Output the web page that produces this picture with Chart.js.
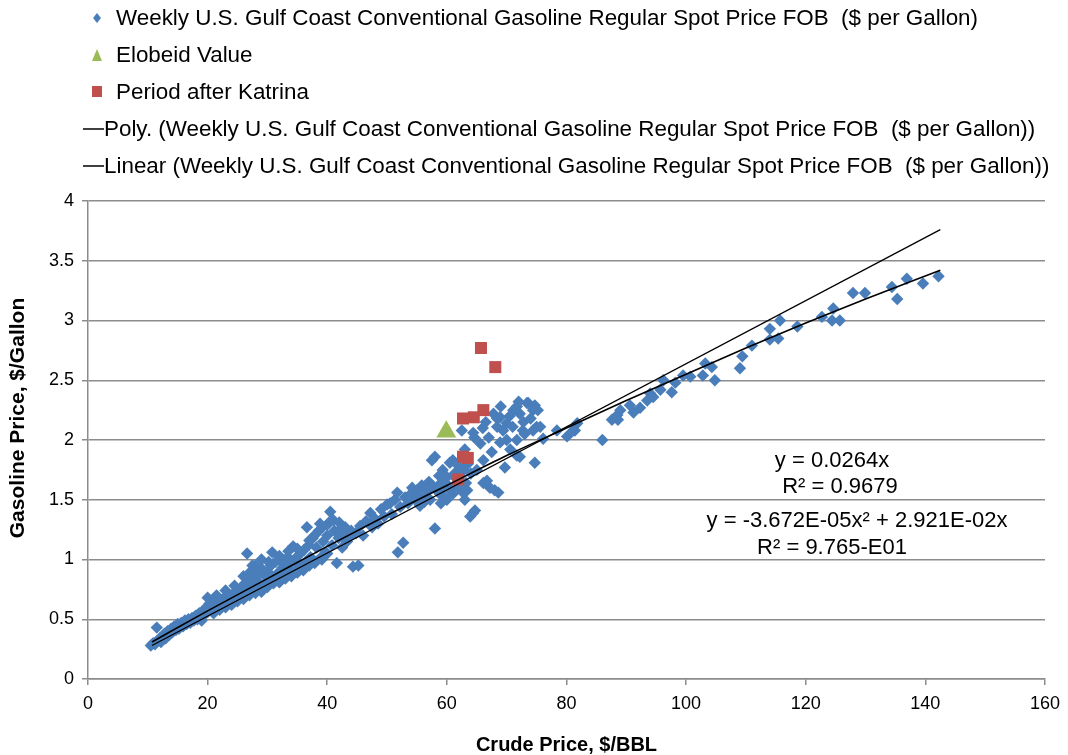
<!DOCTYPE html>
<html>
<head>
<meta charset="utf-8">
<script src="https://cdn.jsdelivr.net/npm/chart.js@4"></script>
<style>
  body { margin: 0; background: #fff; }
  #wrap { width: 1068px; height: 755px; }
</style>
</head>
<body>
<div id="wrap"><canvas id="priceChart" width="1068" height="755"></canvas></div>
<script>
// weekly Gulf Coast spot price vs crude price [crude $/bbl, gasoline $/gal]
const weeklyPoints = [
  [10.5,0.28],[10.9,0.30],[11.2,0.29],[11.5,0.43],[11.6,0.32],[12.0,0.34],[12.2,0.31],[12.5,0.36],
  [12.8,0.38],[13.0,0.34],[13.3,0.40],[13.6,0.37],[13.9,0.42],[14.1,0.39],[14.4,0.44],[14.7,0.41],
  [15.0,0.46],[15.2,0.42],[15.6,0.47],[15.9,0.44],[16.2,0.49],[16.5,0.46],[16.8,0.50],[17.1,0.47],
  [17.4,0.51],[17.7,0.49],[18.0,0.53],[18.3,0.50],[18.6,0.55],[18.9,0.52],[19.2,0.57],[19.5,0.54],
  [19.8,0.60],[20.0,0.56],[20.3,0.63],[20.5,0.58],[20.8,0.66],[21.1,0.60],[21.4,0.64],[21.7,0.61],
  [22.0,0.65],[22.3,0.62],[22.6,0.67],[22.9,0.63],[23.2,0.69],[23.5,0.65],[23.8,0.70],[24.1,0.66],
  [24.4,0.72],[24.7,0.68],[25.0,0.74],[25.3,0.69],[25.6,0.76],[25.9,0.71],[26.2,0.80],[26.4,0.73],
  [26.6,1.05],[26.8,0.85],[27.0,0.78],[27.2,0.90],[27.4,0.74],[27.7,0.83],[28.0,0.95],[28.2,0.78],
  [28.5,0.88],[28.8,0.80],[29.1,0.92],[29.4,0.76],[29.7,0.86],[30.0,0.90],[30.3,0.81],[30.6,0.95],
  [30.8,1.06],[31.0,0.85],[31.3,0.98],[31.6,0.88],[31.9,1.00],[32.2,0.84],[32.5,0.93],[32.8,0.97],
  [33.1,0.89],[33.4,1.02],[33.7,0.92],[34.0,0.98],[34.3,1.11],[34.6,0.90],[34.9,1.02],[35.2,0.95],
  [35.5,1.05],[35.8,0.93],[36.1,1.08],[36.4,0.98],[36.6,1.27],[36.9,1.12],[37.2,1.02],[37.6,1.18],
  [37.9,0.97],[38.2,1.10],[38.6,1.24],[38.8,1.30],[39.1,1.00],[39.3,1.15],[39.7,1.06],[40.0,1.20],
  [40.3,1.31],[40.5,1.40],[40.8,1.12],[41.2,1.24],[41.6,0.97],[41.9,1.18],[42.1,1.25],[42.5,1.10],
  [42.9,1.20],[43.3,1.15],[43.8,1.19],[44.3,0.94],[45.2,0.95],[44.8,1.22],[45.5,1.28],[46.0,1.20],
  [46.5,1.32],[47.2,1.39],[47.5,1.27],[48.0,1.34],[48.5,1.30],[49.0,1.42],[49.5,1.36],[50.0,1.46],
  [50.5,1.47],[50.8,1.38],[51.3,1.50],[51.7,1.56],[51.8,1.06],[52.2,1.44],[52.7,1.14],[53.0,1.52],
  [53.5,1.47],[54.0,1.55],[54.2,1.60],[54.7,1.50],[55.0,1.58],[55.4,1.53],[55.5,1.45],[55.8,1.62],
  [56.2,1.48],[56.5,1.52],[56.6,1.57],[57.0,1.65],[57.2,1.50],[57.5,1.83],[57.7,1.61],[58.0,1.86],
  [58.0,1.26],[58.3,1.58],[58.7,1.70],[58.8,1.55],[59.0,1.64],[59.0,1.47],[59.3,1.75],[59.5,1.60],
  [59.6,1.52],[60.0,1.69],[60.0,1.50],[60.2,1.62],[60.5,1.81],[60.5,1.58],[61.0,1.83],[61.0,1.55],
  [61.3,1.72],[61.5,1.68],[61.7,1.63],[62.0,1.78],[62.0,1.60],[62.2,1.70],[62.5,2.08],[62.7,1.56],
  [62.8,1.75],[63.0,1.92],[63.0,1.50],[63.2,1.64],[63.4,1.58],[63.5,1.80],[63.9,1.36],[64.0,1.72],
  [64.4,2.06],[64.4,1.39],[64.7,1.41],[64.6,2.02],[65.0,1.75],[65.6,1.97],[66.0,2.10],[66.1,1.83],
  [66.1,1.64],[66.5,2.15],[66.7,1.66],[67.0,2.02],[67.2,1.60],[67.5,1.90],[67.8,2.22],[68.0,1.58],
  [68.4,2.11],[68.4,2.18],[68.6,1.56],[68.9,1.98],[68.9,2.19],[69.0,2.28],[69.4,2.08],[69.7,1.77],
  [70.0,2.14],[70.0,2.00],[70.5,2.20],[70.6,1.92],[71.0,2.11],[71.1,2.25],[71.7,2.28],[71.7,2.00],
  [71.7,1.87],[72.0,2.32],[72.2,2.22],[72.2,1.86],[72.7,2.08],[72.8,2.15],[73.0,2.05],[73.4,2.31],
  [73.6,2.31],[74.0,2.18],[74.4,2.25],[74.4,2.08],[74.7,2.29],[74.7,1.81],[75.0,2.11],[75.2,2.25],
  [75.6,2.11],[76.1,2.01],[78.4,2.08],[80.1,2.03],[81.1,2.08],[81.4,2.08],[81.8,2.14],[86.0,2.00],
  [87.6,2.17],[88.5,2.21],[88.6,2.17],[89.0,2.25],[90.6,2.29],[91.2,2.23],[92.3,2.27],[93.5,2.33],
  [94.0,2.39],[94.5,2.36],[95.7,2.42],[96.2,2.50],[97.6,2.40],[98.2,2.48],[99.5,2.54],[100.7,2.53],
  [102.8,2.54],[103.2,2.64],[104.3,2.61],[104.8,2.50],[109.0,2.60],[109.4,2.70],[111.0,2.79],[114.0,2.84],
  [114.0,2.93],[115.4,2.85],[115.7,3.00],[118.6,2.95],[122.7,3.03],[124.4,3.00],[124.6,3.10],[125.7,3.00],
  [127.9,3.23],[129.9,3.23],[134.4,3.28],[135.3,3.18],[136.9,3.35],[139.6,3.31],[142.2,3.37],
  // lower and upper edges of the dense band
  [19.0,0.49],[21.0,0.55],[22.0,0.58],[23.0,0.60],[24.0,0.62],[25.0,0.65],[26.0,0.67],[27.0,0.70],
  [28.0,0.72],[29.0,0.73],[30.0,0.77],[31.0,0.80],[32.0,0.81],[33.0,0.84],[34.0,0.86],[35.0,0.89],
  [36.0,0.91],[37.0,0.95],[38.0,0.98],[39.0,1.02],[40.0,1.05],
  [20.0,0.68],[21.5,0.70],[23.0,0.74],[24.5,0.78],[26.0,0.86],[27.5,0.95],[29.0,1.00],[30.2,0.98],
  [32.0,1.03],[33.5,1.07],[35.0,1.09],[37.0,1.16],[38.0,1.21],[39.2,1.27],[40.0,1.29],[41.0,1.33],
  [42.0,1.31],[43.0,1.27],[44.0,1.24]
];

const elobeidPoints = [[59.9, 2.07]];

const katrinaPoints = [
  [65.7,2.77],[68.1,2.61],[62.7,2.18],[64.5,2.19],[66.1,2.25],[62.7,1.86],[63.5,1.85],[61.9,1.67]
];

// trendlines as drawn on the picture
const polyTrendX = [10.7, 20, 30, 40, 50, 60, 70, 80, 90, 100, 110, 120, 130, 142.5];
const polyTrendY = [0.31, 0.57, 0.84, 1.11, 1.37, 1.62, 1.87, 2.10, 2.33, 2.55, 2.77, 2.98, 3.18, 3.42];
const linearTrendX = [10.7, 142.5];
const linearTrendY = [0.28, 3.76];

const xTicks = [0, 20, 40, 60, 80, 100, 120, 140, 160];
const yTicks = [0, 0.5, 1, 1.5, 2, 2.5, 3, 3.5, 4];

const seriesLabel = 'Weekly U.S. Gulf Coast Conventional Gasoline Regular Spot Price FOB  ($ per Gallon)';
const fitNotes = [
  { text: 'y = 0.0264x', x: 832, y: 461 },
  { text: 'R\u00b2 = 0.9679', x: 840, y: 487 },
  { text: 'y = -3.672E-05x\u00b2 + 2.921E-02x', x: 857, y: 521 },
  { text: 'R\u00b2 = 9.765-E01', x: 832, y: 548 }
];

const FONT = '"Liberation Sans", Arial, Helvetica, sans-serif';
const GRID = '#8c8c8c';

const toXY = pts => pts.map(p => ({ x: p[0], y: p[1] }));
const zipXY = (xs, ys) => xs.map((x, i) => ({ x: x, y: ys[i] }));

const stackedLegend = {
  id: 'stackedLegend',
  afterDraw(chart) {
    const ctx = chart.ctx;
    ctx.save();
    ctx.font = '22.4px ' + FONT;
    ctx.textBaseline = 'middle';
    ctx.fillStyle = '#000';
    chart.data.datasets.forEach((ds, i) => {
      const y = 18 + i * 37;
      const mx = 97;
      if (ds.showLine) {
        ctx.strokeStyle = '#000';
        ctx.lineWidth = 1.5;
        ctx.beginPath();
        ctx.moveTo(83, y);
        ctx.lineTo(104, y);
        ctx.stroke();
        ctx.fillText(ds.label, 104, y + 1);
        return;
      }
      ctx.fillStyle = ds.backgroundColor;
      ctx.beginPath();
      if (ds.pointStyle === 'rectRot') {
        ctx.moveTo(mx, y - 5); ctx.lineTo(mx + 4, y); ctx.lineTo(mx, y + 5); ctx.lineTo(mx - 4, y);
      } else if (ds.pointStyle === 'triangle') {
        ctx.moveTo(mx, y - 6); ctx.lineTo(mx + 5, y + 6); ctx.lineTo(mx - 5, y + 6);
      } else {
        ctx.rect(mx - 5, y - 6, 10, 11);
      }
      ctx.closePath();
      ctx.fill();
      ctx.fillStyle = '#000';
      ctx.fillText(ds.label, 116, y + 1);
    });
    ctx.restore();
  }
};

const fitText = {
  id: 'fitText',
  afterDraw(chart) {
    const ctx = chart.ctx;
    ctx.save();
    ctx.fillStyle = '#000';
    ctx.textAlign = 'center';
    ctx.textBaseline = 'middle';
    ctx.font = '22px ' + FONT;
    fitNotes.forEach(n => ctx.fillText(n.text, n.x, n.y));
    // y axis title
    ctx.font = 'bold 21px ' + FONT;
    ctx.translate(18, 418);
    ctx.rotate(-Math.PI / 2);
    ctx.fillText('Gasoline Price, $/Gallon', 0, 0);
    ctx.restore();
  }
};

new Chart(document.getElementById('priceChart'), {
  type: 'scatter',
  data: {
    datasets: [
      {
        label: seriesLabel,
        data: toXY(weeklyPoints),
        pointStyle: 'rectRot',
        pointRadius: 6.2,
        backgroundColor: '#4A7EBB',
        borderColor: '#4A7EBB',
        borderWidth: 0,
        order: 4
      },
      {
        label: 'Elobeid Value',
        data: toXY(elobeidPoints),
        pointStyle: 'triangle',
        pointRadius: 11.5,
        backgroundColor: '#9BBB59',
        borderColor: '#9BBB59',
        borderWidth: 0,
        order: 3
      },
      {
        label: 'Period after Katrina',
        data: toXY(katrinaPoints),
        pointStyle: 'rect',
        pointRadius: 8.5,
        backgroundColor: '#C0504D',
        borderColor: '#C0504D',
        borderWidth: 0,
        order: 2
      },
      {
        label: 'Poly. (' + seriesLabel + ')',
        data: zipXY(polyTrendX, polyTrendY),
        showLine: true,
        cubicInterpolationMode: 'monotone',
        pointRadius: 0,
        borderColor: '#000',
        borderWidth: 1.6,
        backgroundColor: '#000',
        order: 1
      },
      {
        label: 'Linear (' + seriesLabel + ')',
        data: zipXY(linearTrendX, linearTrendY),
        showLine: true,
        pointRadius: 0,
        borderColor: '#000',
        borderWidth: 1.3,
        backgroundColor: '#000',
        order: 0
      }
    ]
  },
  options: {
    responsive: false,
    animation: false,
    devicePixelRatio: 1,
    layout: { padding: { top: 201, right: 23, left: 0, bottom: 0 } },
    plugins: {
      legend: { display: false },
      tooltip: { enabled: false }
    },
    scales: {
      x: {
        type: 'linear',
        min: xTicks[0],
        max: xTicks[xTicks.length - 1],
        afterBuildTicks: s => { s.ticks = xTicks.map(v => ({ value: v })); },
        afterFit: s => { s.height = 76; },
        grid: { drawOnChartArea: false, color: GRID, tickLength: 6, lineWidth: 1.5 },
        border: { color: GRID, width: 1.5 },
        ticks: { color: '#000', font: { family: FONT, size: 18 }, padding: 8, maxRotation: 0,
                 callback: v => String(v) },
        title: {
          display: true,
          text: 'Crude Price, $/BBL',
          color: '#000',
          font: { family: FONT, size: 20, weight: 'bold', lineHeight: 1 },
          padding: { top: 0, bottom: 0 }
        }
      },
      y: {
        type: 'linear',
        min: yTicks[0],
        max: yTicks[yTicks.length - 1],
        afterBuildTicks: s => { s.ticks = yTicks.map(v => ({ value: v })); },
        afterFit: s => { s.width = 88; },
        grid: { color: GRID, tickLength: 6, lineWidth: 1.5 },
        border: { color: GRID, width: 1.5 },
        ticks: { color: '#000', font: { family: FONT, size: 18 }, padding: 8,
                 callback: v => String(v) }
      }
    }
  },
  plugins: [stackedLegend, fitText]
});
</script>
</body>
</html>
